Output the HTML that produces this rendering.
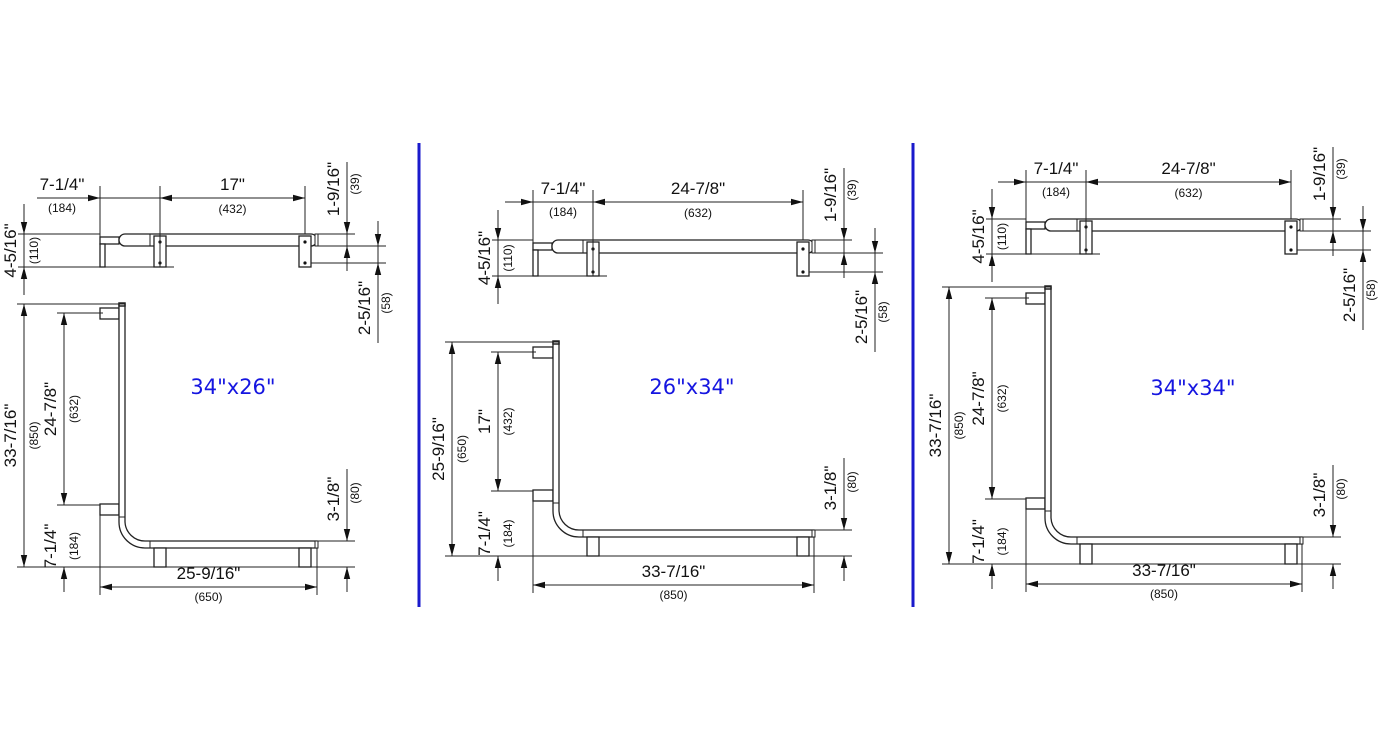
<!DOCTYPE html>
<html><head><meta charset="utf-8"><style>
html,body{margin:0;padding:0;background:#fff;}
svg{display:block;}
text{font-family:"Liberation Sans",Arial,sans-serif;fill:#111;}
</style></head><body>
<svg id="s" width="1381" height="750" viewBox="0 0 1381 750" xmlns="http://www.w3.org/2000/svg">
<rect width="1381" height="750" fill="#fff"/>
<line x1="419" y1="143" x2="419" y2="607" stroke="#1a1acc" stroke-width="3"/>
<line x1="913" y1="143" x2="913" y2="607" stroke="#1a1acc" stroke-width="3"/>
</svg>
<script>
var S=document.getElementById('s'),h='';
function ln(a,b,c,d,w){h+='<line x1="'+a+'" y1="'+b+'" x2="'+c+'" y2="'+d+'" stroke="#222" stroke-width="'+(w||1)+'"/>';}
function rc(x,y,w,hh,sw){h+='<rect x="'+x+'" y="'+y+'" width="'+w+'" height="'+hh+'" fill="#fff" stroke="#222" stroke-width="'+(sw||1.3)+'"/>';}
function ar(x,y,dx,dy){var L=12,W=3.2,bx=x-dx*L,by=y-dy*L,px=-dy*W,py=dx*W;
 h+='<polygon points="'+x+','+y+' '+(bx+px)+','+(by+py)+' '+(bx-px)+','+(by-py)+'" fill="#111"/>';}
function tx(x,y,s,sz){h+='<text x="'+x+'" y="'+y+'" font-size="'+sz+'" text-anchor="middle">'+s+'</text>';}
function tr(x,y,s,sz){h+='<text transform="translate('+x+','+y+') rotate(-90)" font-size="'+sz+'" text-anchor="middle">'+s+'</text>';}
var BIG=17,SM=12;
function P(o){
 // ---- top view ----
 var L=o.L,R=o.R;
 rc(L,o.yT+3,19,7); rc(L,o.yT+10,5,o.yF-o.yT-10);
 h+='<rect x="'+(L+19)+'" y="'+o.yT+'" width="'+(R-L-19)+'" height="'+(o.yRb-o.yT)+'" rx="6" fill="#fff" stroke="#222" stroke-width="1.3"/>';
 ln(o.rs,o.yT,o.rs,o.yRb,1);
 [o.B1,o.B2].forEach(function(b){rc(b-6,o.yT+2,12,o.yF-o.yT-2);
  h+='<circle cx="'+b+'" cy="'+(o.yRb-4)+'" r="1.6" fill="#111"/><circle cx="'+b+'" cy="'+(o.yF-4)+'" r="1.6" fill="#111"/>';});
 rc(R-2,o.yT,3,o.yRb-o.yT,1);
 // top dim
 ln(o.xA,o.yD,o.B2,o.yD); ln(L,o.yD-12,L,o.yF); ln(o.B1,o.yD-12,o.B1,o.yF); ln(o.B2,o.yD-12,o.B2,o.yT);
 ar(L,o.yD,1,0); ar(o.B1,o.yD,-1,0); ar(o.B2,o.yD,1,0);
 tx(o.ax,o.yD-8,'7-1/4"',BIG); tx(o.ax,o.yD+14,'(184)',SM);
 var bx=(o.B1+o.B2)/2; tx(bx,o.yD-8,o.bl,BIG); tx(bx,o.yD+15,o.bm,SM);
 // left dim
 ln(o.xLD-6,o.yT,L,o.yT); ln(o.xLD-6,o.yF,o.B1+14,o.yF);
 ln(o.xLD,o.yT-30,o.xLD,o.yF+28); ar(o.xLD,o.yT,0,1); ar(o.xLD,o.yF,0,-1);
 tr(o.xLD-8,(o.yT+o.yF)/2,'4-5/16"',BIG); tr(o.xLD+14,(o.yT+o.yF)/2,'(110)',SM);
 // right dims
 ln(R,o.yT,o.xR1+8,o.yT); ln(R,o.yRb,o.xR2+8,o.yRb); ln(o.B2+6,o.y58,o.xR2+8,o.y58);
 ln(o.xR1,o.yT-72,o.xR1,o.yRb+25); ar(o.xR1,o.yT,0,1); ar(o.xR1,o.yRb,0,-1);
 ln(o.xR2,o.yRb-25,o.xR2,o.y58+80); ar(o.xR2,o.yRb,0,1); ar(o.xR2,o.y58,0,-1);
 tr(o.xR1-8,o.yT-45,'1-9/16"',BIG); tr(o.xR1+12,o.yT-50,'(39)',SM);
 tr(o.xR2-8,o.y58+45,'2-5/16"',BIG); tr(o.xR2+12,o.y58+40,'(58)',SM);
 // ---- plan view ----
 var t=o.xt,yH=o.yH,r=26;
 rc(L,o.yB1,t-L,11); rc(L,o.yB2,t-L,11);
 h+='<path d="M'+t+' '+o.yTop+' L'+t+' '+(yH-r+7)+' A'+(r)+' '+(r)+' 0 0 0 '+(t+r)+' '+(yH+7)+' L'+R+' '+(yH+7)+' L'+R+' '+yH+' L'+(t+r)+' '+yH+' A'+(r-6)+' '+(r-6)+' 0 0 1 '+(t+6)+' '+(yH-r+7)+' L'+(t+6)+' '+o.yTop+' Z" fill="#fff" stroke="#222" stroke-width="1.3"/>';
 ln(t,o.yB2+13,t+6,o.yB2+13); ln(o.rs,yH,o.rs,yH+7);
 rc(t,o.yTop-1,6,3,1.5);
 rc(R-2,yH,3,7,1);
 [o.B1,o.B2].forEach(function(b){rc(b-6,yH+7,12,o.yFB-yH-7);});
 // outer vertical dim
 ln(o.xOD-7,o.yTop,t+6,o.yTop); ln(o.xOD-7,o.yFB,o.xR1+8,o.yFB);
 ln(o.xOD,o.yTop,o.xOD,o.yFB); ar(o.xOD,o.yTop,0,-1); ar(o.xOD,o.yFB,0,1);
 var cy=(o.yTop+o.yFB)/2; tr(o.xOD-8,cy,o.ol,BIG); tr(o.xOD+14,cy,o.om,SM);
 // inner dims
 var i1=o.yB1+5,i2=o.yB2+1;
 ln(o.xID-7,i1,L+3,i1); ln(o.xID-7,i2,L,i2);
 ln(o.xID,i1,o.xID,i2); ar(o.xID,i1,0,-1); ar(o.xID,i2,0,1);
 ln(o.xID,o.yFB,o.xID,o.yFB+25); ar(o.xID,o.yFB,0,-1);
 tr(o.xID-8,(i1+i2)/2,o.il,BIG); tr(o.xID+14,(i1+i2)/2,o.im,SM);
 tr(o.xID-8,(i2+o.yFB)/2+10,'7-1/4"',BIG); tr(o.xID+14,(i2+o.yFB)/2+10,'(184)',SM);
 // horizontal dim
 ln(L,o.yB2+11,L,o.yHD+8); ln(R,yH+7,R,o.yHD+8);
 ln(L,o.yHD,R,o.yHD); ar(L,o.yHD,-1,0); ar(R,o.yHD,1,0);
 tx((L+R)/2,o.yHD-8,o.hl,BIG); tx((L+R)/2,o.yHD+14,o.hm,SM);
 // 3-1/8
 ln(R,yH,o.xR1+8,yH);
 ln(o.xR1,yH-72,o.xR1,yH); ar(o.xR1,yH,0,1);
 ln(o.xR1,o.yFB,o.xR1,o.yFB+25); ar(o.xR1,o.yFB,0,-1);
 tr(o.xR1-8,yH-42,'3-1/8"',BIG); tr(o.xR1+12,yH-48,'(80)',SM);
 h+='<text x="'+o.tx+'" y="'+o.ty+'" font-size="21" text-anchor="middle" style="fill:#1515e0;font-family:\'DejaVu Sans\',sans-serif">'+o.title+'</text>';
}
P({L:100,rs:150,R:317,B1:160,B2:305,yT:234,yRb:246,yF:267,yD:198,xA:37,ax:62,bl:'17"',bm:'(432)',xLD:24,xR1:347,xR2:378,y58:263,
 yTop:304,xt:119,yB1:308,yB2:504,yH:541,yFB:567,xOD:24,xID:64,yHD:587,ol:'33-7/16"',om:'(850)',il:'24-7/8"',im:'(632)',hl:'25-9/16"',hm:'(650)',title:'34"x26"',tx:233,ty:394});
P({L:533,rs:583,R:814,B1:593,B2:803,yT:240,yRb:253,yF:276,yD:202,xA:505,ax:563,bl:'24-7/8"',bm:'(632)',xLD:498,xR1:844,xR2:875,y58:272,
 yTop:342,xt:553,yB1:347,yB2:490,yH:530,yFB:556,xOD:452,xID:498,yHD:585,ol:'25-9/16"',om:'(650)',il:'17"',im:'(432)',hl:'33-7/16"',hm:'(850)',title:'26"x34"',tx:692,ty:394});
P({L:1026,rs:1077,R:1302,B1:1086,B2:1291,yT:219,yRb:231,yF:254,yD:182,xA:998,ax:1056,bl:'24-7/8"',bm:'(632)',xLD:992,xR1:1333,xR2:1363,y58:250,
 yTop:287,xt:1045,yB1:293,yB2:498,yH:537,yFB:564,xOD:949,xID:992,yHD:584,ol:'33-7/16"',om:'(850)',il:'24-7/8"',im:'(632)',hl:'33-7/16"',hm:'(850)',title:'34"x34"',tx:1193,ty:395});
S.insertAdjacentHTML('beforeend',h);
</script>
</body></html>
